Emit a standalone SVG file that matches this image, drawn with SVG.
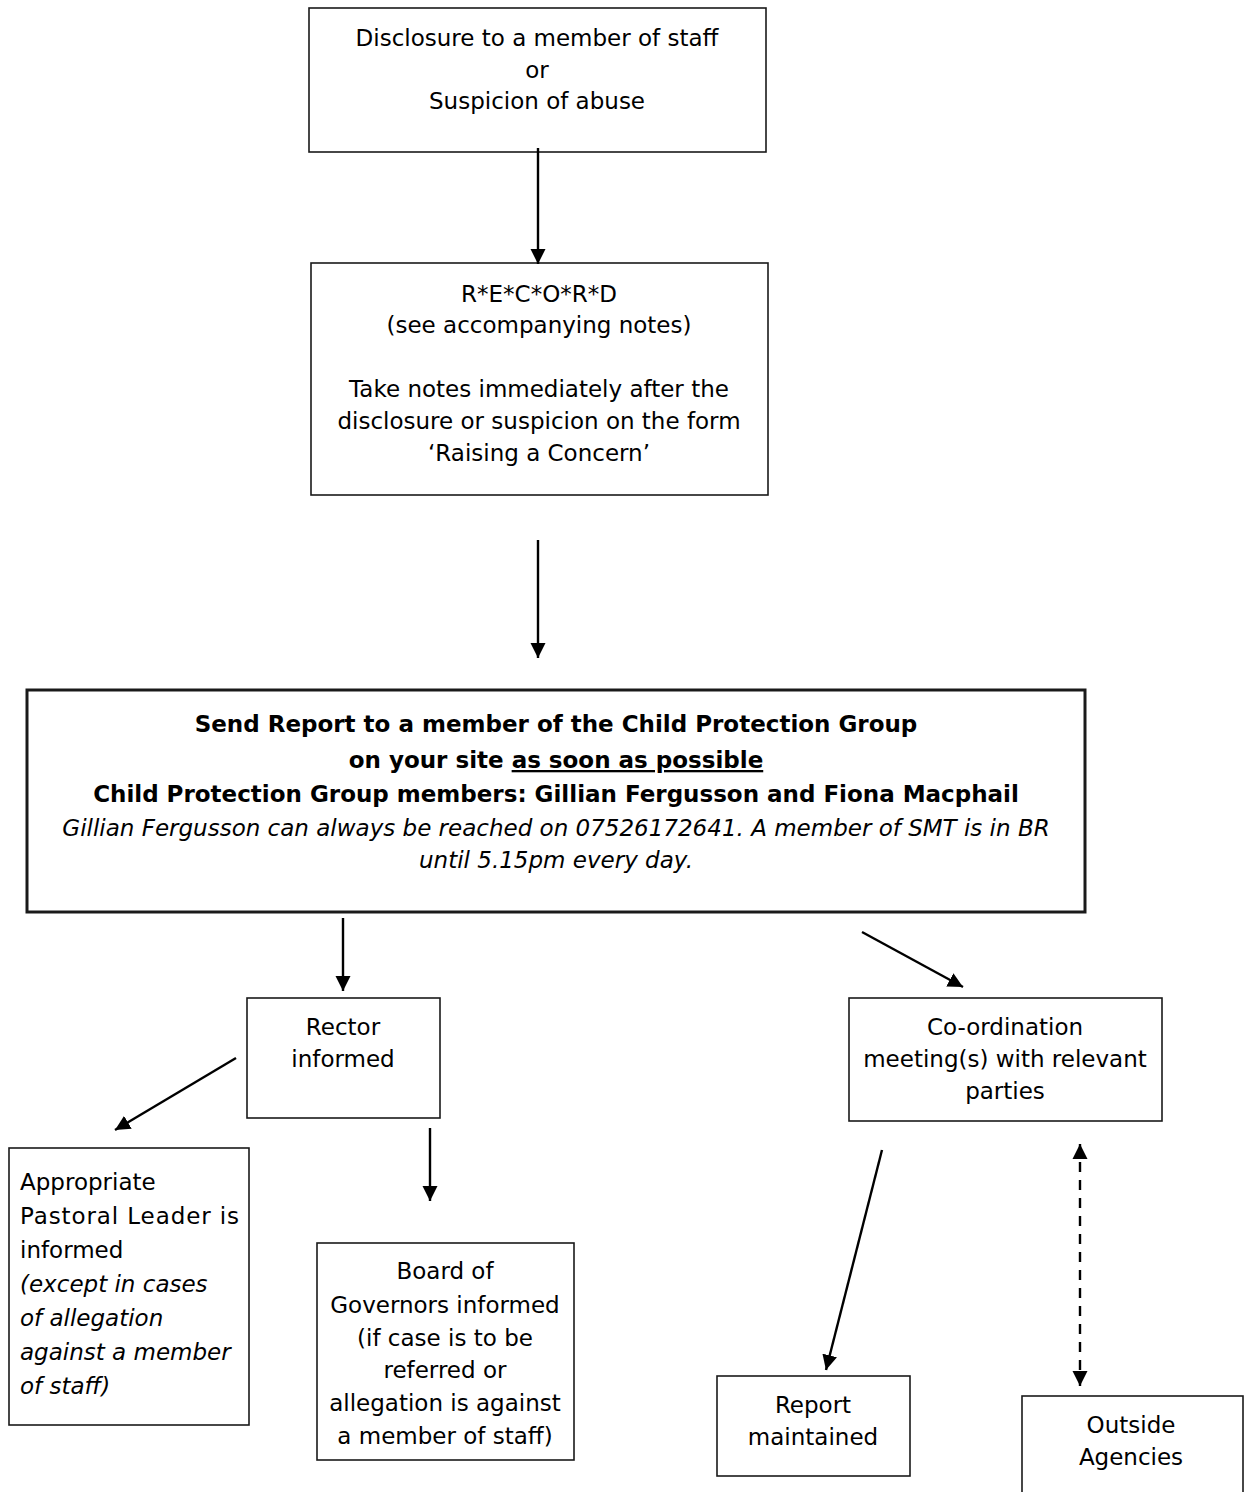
<svg xmlns="http://www.w3.org/2000/svg" width="1244" height="1492" viewBox="0 0 1244 1492">
  <style>
    .box { fill: #ffffff; stroke: #1a1a1a; stroke-width: 1.6; }
    .main { fill: #ffffff; stroke: #1a1a1a; stroke-width: 3; }
    text { font-family: "DejaVu Sans", Verdana, sans-serif; font-size: 23px; fill: #000000; }
    .c { text-anchor: middle; }
    .b { font-weight: bold; }
    .i { font-style: italic; }
    .u { text-decoration: underline; }
    .edge { stroke: #000000; stroke-width: 2.4; fill: none; }
    .dash { stroke-dasharray: 10 8; }
  </style>
  <defs>
    <marker id="arrow" markerUnits="userSpaceOnUse" markerWidth="16" markerHeight="16" refX="15" refY="8" orient="auto">
      <path d="M0,0.5 L15,8 L0,15.5 z" fill="#000000"/>
    </marker>
    <marker id="arrow2" markerUnits="userSpaceOnUse" markerWidth="16" markerHeight="16" refX="15" refY="8" orient="auto-start-reverse">
      <path d="M0,0.5 L15,8 L0,15.5 z" fill="#000000"/>
    </marker>
  </defs>

  <rect width="1244" height="1492" fill="#ffffff"/>

  <g id="disclosure">
    <rect class="box" x="309" y="8" width="457" height="144"/>
    <text class="c" x="537" y="46">Disclosure to a member of staff</text>
    <text class="c" x="537" y="78">or</text>
    <text class="c" x="537" y="109">Suspicion of abuse</text>
  </g>

  <g id="record">
    <rect class="box" x="311" y="263" width="457" height="232"/>
    <text class="c" x="539" y="302">R*E*C*O*R*D</text>
    <text class="c" x="539" y="333">(see accompanying notes)</text>
    <text class="c" x="539" y="397">Take notes immediately after the</text>
    <text class="c" x="539" y="429">disclosure or suspicion on the form</text>
    <text class="c" x="539" y="461">‘Raising a Concern’</text>
  </g>

  <g id="send-report">
    <rect class="main" x="27" y="690" width="1058" height="222"/>
    <text class="c b" x="556" y="732">Send Report to a member of the Child Protection Group</text>
    <text class="c b" x="556" y="768">on your site <tspan class="u">as soon as possible</tspan></text>
    <text class="c b" x="556" y="802">Child Protection Group members: Gillian Fergusson and Fiona Macphail</text>
    <text class="c i" x="556" y="836">Gillian Fergusson can always be reached on 07526172641. A member of SMT is in BR</text>
    <text class="c i" x="556" y="868">until 5.15pm every day.</text>
  </g>

  <g id="rector">
    <rect class="box" x="247" y="998" width="193" height="120"/>
    <text class="c" x="343" y="1035">Rector</text>
    <text class="c" x="343" y="1067">informed</text>
  </g>

  <g id="coordination">
    <rect class="box" x="849" y="998" width="313" height="123"/>
    <text class="c" x="1005" y="1035">Co-ordination</text>
    <text class="c" x="1005" y="1067">meeting(s) with relevant</text>
    <text class="c" x="1005" y="1099">parties</text>
  </g>

  <g id="pastoral-leader">
    <rect class="box" x="9" y="1148" width="240" height="277"/>
    <text x="20" y="1190">Appropriate</text>
    <text x="20" y="1224" textLength="219" lengthAdjust="spacing">Pastoral Leader is</text>
    <text x="20" y="1258">informed</text>
    <text class="i" x="20" y="1292">(except in cases</text>
    <text class="i" x="20" y="1326">of allegation</text>
    <text class="i" x="20" y="1360">against a member</text>
    <text class="i" x="20" y="1394">of staff)</text>
  </g>

  <g id="governors">
    <rect class="box" x="317" y="1243" width="257" height="217"/>
    <text class="c" x="445" y="1279">Board of</text>
    <text class="c" x="445" y="1313">Governors informed</text>
    <text class="c" x="445" y="1346">(if case is to be</text>
    <text class="c" x="445" y="1378">referred or</text>
    <text class="c" x="445" y="1411">allegation is against</text>
    <text class="c" x="445" y="1444">a member of staff)</text>
  </g>

  <g id="report-maintained">
    <rect class="box" x="717" y="1376" width="193" height="100"/>
    <text class="c" x="813" y="1413">Report</text>
    <text class="c" x="813" y="1445">maintained</text>
  </g>

  <g id="outside-agencies">
    <rect class="box" x="1022" y="1396" width="221" height="110"/>
    <text class="c" x="1131" y="1433">Outside</text>
    <text class="c" x="1131" y="1465">Agencies</text>
  </g>

  <g id="connectors">
    <line class="edge" x1="538" y1="148" x2="538" y2="264" marker-end="url(#arrow)"/>
    <line class="edge" x1="538" y1="540" x2="538" y2="658" marker-end="url(#arrow)"/>
    <line class="edge" x1="343" y1="918" x2="343" y2="991" marker-end="url(#arrow)"/>
    <line class="edge" x1="862" y1="932" x2="963" y2="987" marker-end="url(#arrow)"/>
    <line class="edge" x1="236" y1="1058" x2="115" y2="1130" marker-end="url(#arrow)"/>
    <line class="edge" x1="430" y1="1128" x2="430" y2="1201" marker-end="url(#arrow)"/>
    <line class="edge" x1="882" y1="1150" x2="826" y2="1370" marker-end="url(#arrow)"/>
    <line class="edge dash" x1="1080" y1="1144" x2="1080" y2="1386" marker-start="url(#arrow2)" marker-end="url(#arrow2)"/>
  </g>
</svg>
